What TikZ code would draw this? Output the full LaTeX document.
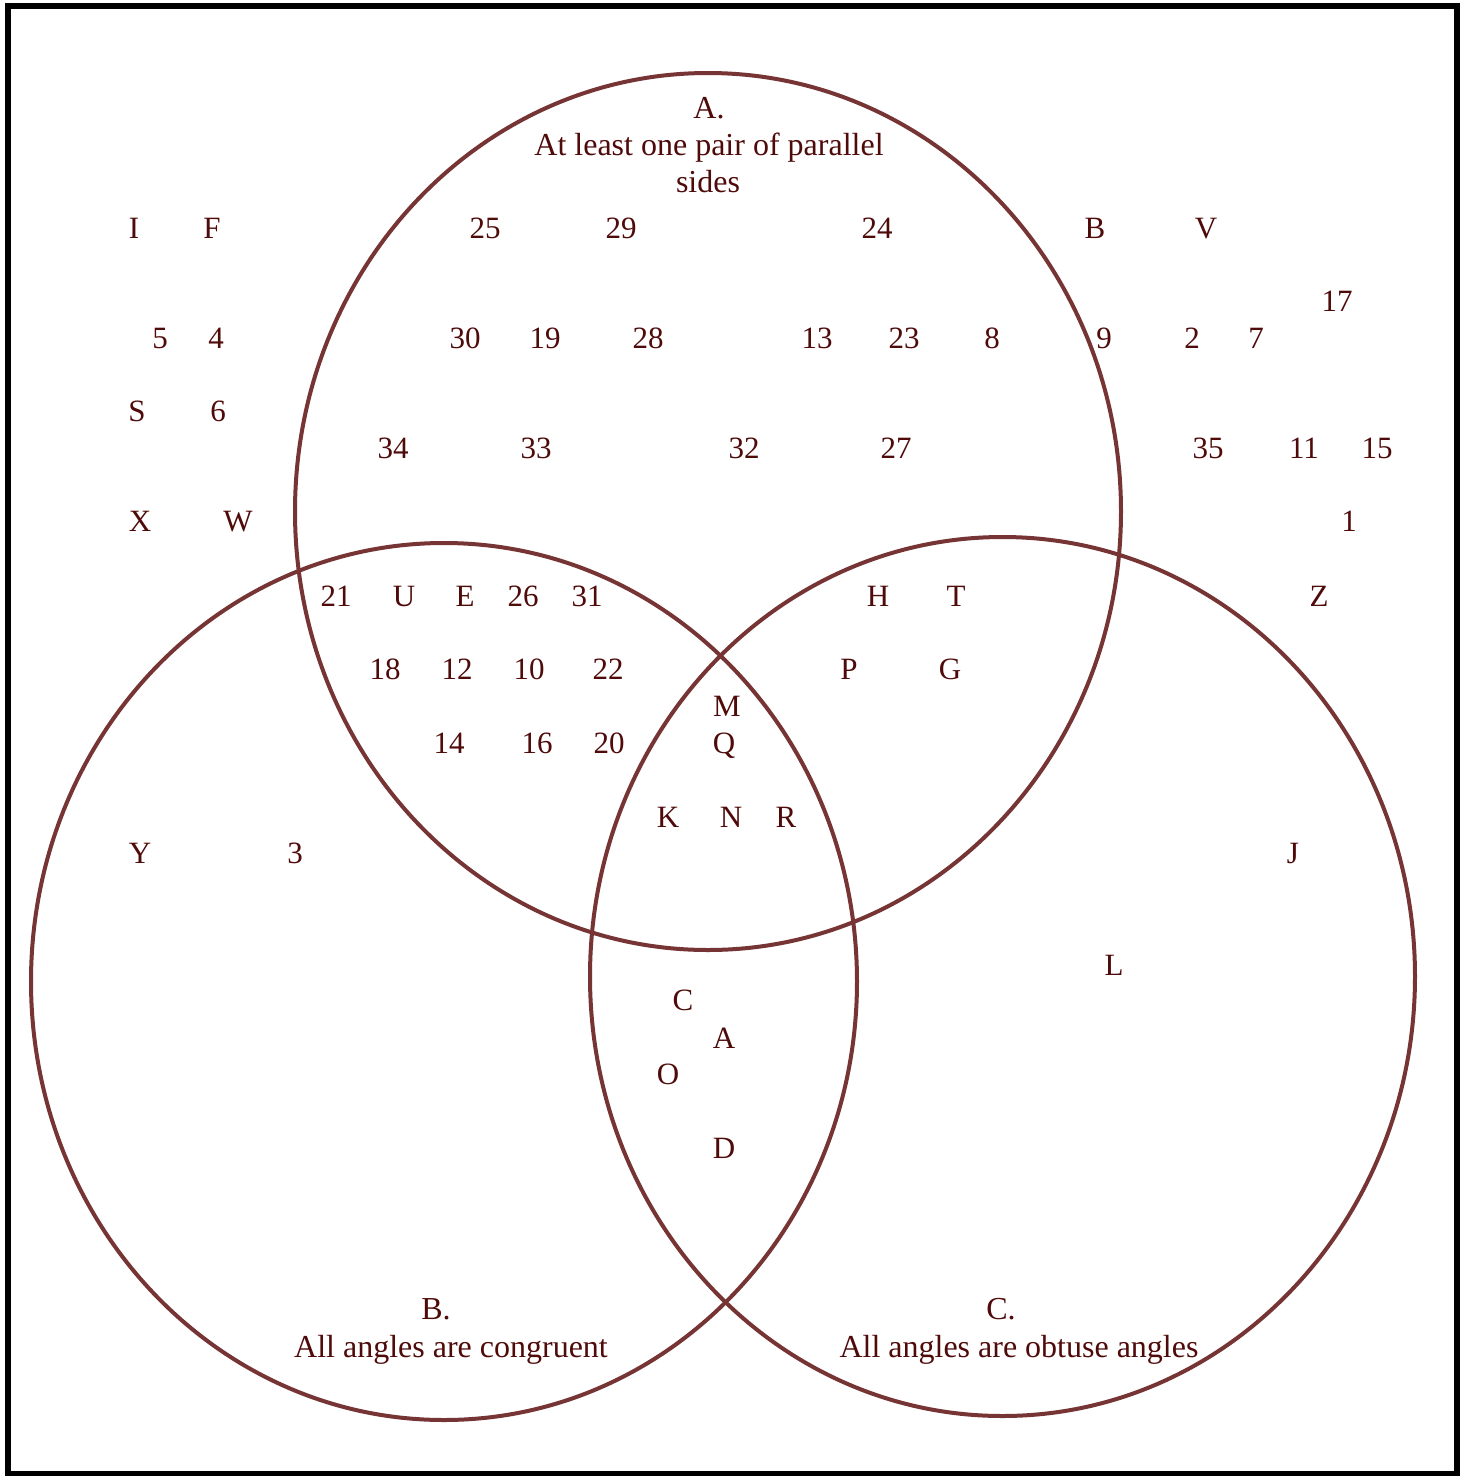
\documentclass[tikz,border=0pt]{standalone}
\usepackage{fontspec}
\setmainfont{Liberation Serif}
\definecolor{ring}{HTML}{763434}
\definecolor{ink}{HTML}{4F0A0A}
\begin{document}
\begin{tikzpicture}[x=1pt,y=-1pt,
  ringline/.style={draw=ring,line width=4pt},
  lbl/.style={text=ink,font=\fontsize{31}{37}\selectfont,anchor=base,inner sep=0pt},
  ttl/.style={text=ink,font=\fontsize{32}{37}\selectfont,anchor=base,inner sep=0pt}]
\useasboundingbox (0,0) rectangle (1468,1476);
\fill[white] (0,0) rectangle (1468,1476);
\draw[line width=6pt] (7.5,6) rectangle (1457,1474);
% circles
\draw[ringline] (708,511.5) ellipse [x radius=413, y radius=438.5];
\draw[ringline] (444,981.5) ellipse [x radius=413, y radius=438.5];
\draw[ringline] (1002.5,976.5) ellipse [x radius=412.5, y radius=439.5];
% titles
\node[ttl] (tA1) at (709,118) {A.};
\node[ttl] (tA2) at (709,155) {At least one pair of parallel};
\node[ttl] (tA3) at (708,192) {sides};
\node[ttl] (tB1) at (436,1319) {B.};
\node[ttl] (tB2) at (451,1357) {All angles are congruent};
\node[ttl] (tC1) at (1001,1319) {C.};
\node[ttl] (tC2) at (1019,1357) {All angles are obtuse angles};
% labels (baseline = visual centre + 10)
\foreach \t/\x/\y [count=\i] in {
 I/134/228, F/212/228, 25/485/228, 29/621/228, 24/877/228, B/1095/228, V/1206/228,
 17/1337/301,
 5/160/338, 4/216/338, 30/465/338, 19/545/338, 28/648/338, 13/817/338, 23/904/338, 8/992/338, 9/1104/338, 2/1192/338, 7/1256/338,
 S/137/411, 6/218/411,
 34/393/448, 33/536/448, 32/744/448, 27/896/448, 35/1208/448, 11/1304/448, 15/1377/448,
 X/140/521, W/238/521, 1/1349/521,
 21/336/596, U/404/596, E/465/596, 26/523/596, 31/587/596, H/878/596, T/956/596, Z/1319/596,
 18/385/669, 12/457/669, 10/529/669, 22/608/669, P/849/669, G/950/669,
 M/727/706,
 14/449/743, 16/537/743, 20/609/743, Q/724/743,
 K/668/817, N/731/817, R/786/817,
 Y/140/853, 3/295/853, J/1293/853,
 L/1114/965,
 C/683/1000,
 A/724/1038,
 O/668/1074,
 D/724/1148}
 \node[lbl] (n\i) at (\x,\y+10) {\t};
\end{tikzpicture}
\end{document}
